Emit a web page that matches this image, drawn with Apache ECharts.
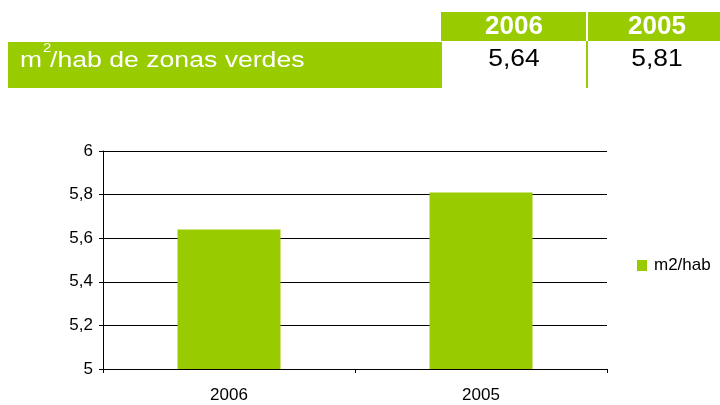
<!DOCTYPE html>
<html>
<head>
<meta charset="utf-8">
<script src="https://cdn.jsdelivr.net/npm/echarts@6/dist/echarts.min.js"></script>
<style>
html,body{margin:0;padding:0;background:#fff;}
#chart{width:720px;height:405px;}
</style>
</head>
<body>
<div id="chart"></div>
<script>
var categories = ['2006', '2005'];
var values = [5.64, 5.81];
var seriesName = 'm2/hab';
var rowLabelBase = 'm';
var rowLabelSup = '2';
var rowLabelRest = '/hab de zonas verdes';
var yMin = 5, yMax = 6, yInterval = 0.2;

var GREEN = '#99CC00';
var FONT = '"Liberation Sans", Arial, sans-serif';
function fmt(v, d) { return v.toFixed(d).replace('.', ','); }
function fmtTick(v) {
  var s = String(Math.round(v * 10) / 10);
  return s.replace('.', ',');
}

var chart = echarts.init(document.getElementById('chart'));

var graphics = [
  { type: 'rect', shape: { x: 441, y: 12, width: 145, height: 29 }, style: { fill: GREEN } },
  { type: 'rect', shape: { x: 588, y: 12, width: 132, height: 29 }, style: { fill: GREEN } },
  { type: 'rect', shape: { x: 8, y: 42, width: 434, height: 46 }, style: { fill: GREEN } },
  { type: 'rect', shape: { x: 586, y: 41, width: 2, height: 47 }, style: { fill: GREEN } },
  { type: 'text', x: 20, y: 61, scaleX: 1.2, originX: 0, originY: 0,
    style: { text: rowLabelBase, fill: '#fff', font: '22px ' + FONT, textAlign: 'left', textVerticalAlign: 'middle' } },
  { type: 'text', x: 43, y: 48.5, scaleX: 1.15, originX: 0, originY: 0,
    style: { text: rowLabelSup, fill: '#fff', font: '13px ' + FONT, textAlign: 'left', textVerticalAlign: 'middle' } },
  { type: 'text', x: 50, y: 61, scaleX: 1.21, originX: 0, originY: 0,
    style: { text: rowLabelRest, fill: '#fff', font: '22px ' + FONT, textAlign: 'left', textVerticalAlign: 'middle' } }
];
var headerCenters = [514, 657];
categories.forEach(function (c, i) {
  graphics.push({ type: 'text', x: headerCenters[i], y: 27,
    style: { text: c, fill: '#fff', font: 'bold 26px ' + FONT, textAlign: 'center', textVerticalAlign: 'middle' } });
  graphics.push({ type: 'text', x: headerCenters[i], y: 59, scaleX: 1.1, originX: 0, originY: 0,
    style: { text: fmt(values[i], 2), fill: '#000', font: '24px ' + FONT, textAlign: 'center', textVerticalAlign: 'middle' } });
});

chart.setOption({
  animation: false,
  textStyle: { fontFamily: FONT },
  graphic: graphics,
  grid: { left: 103, right: 113, top: 151, bottom: 36, containLabel: false },
  legend: {
    data: [seriesName], left: 632, top: 252, orient: 'vertical',
    itemWidth: 10, itemHeight: 11, itemGap: 6,
    icon: 'rect',
    textStyle: { fontSize: 17, color: '#000', padding: [0, 0, 0, 2] }
  },
  xAxis: {
    type: 'category', data: categories,
    axisLine: { lineStyle: { color: '#000', width: 1 } },
    axisTick: { show: true, length: 4, lineStyle: { color: '#000' } },
    axisLabel: { color: '#000', fontSize: 17, margin: 18 },
    splitLine: { show: false }
  },
  yAxis: {
    type: 'value', min: yMin, max: yMax, interval: yInterval,
    axisLine: { show: true, lineStyle: { color: '#000', width: 1 } },
    axisTick: { show: true, length: 4, lineStyle: { color: '#000' } },
    axisLabel: { color: '#000', fontSize: 17, margin: 10, formatter: fmtTick },
    splitLine: { show: true, lineStyle: { color: '#000', width: 1 } }
  },
  series: [{
    name: seriesName, type: 'bar', data: values, barWidth: 103,
    itemStyle: { color: GREEN }
  }]
});
</script>
</body>
</html>
